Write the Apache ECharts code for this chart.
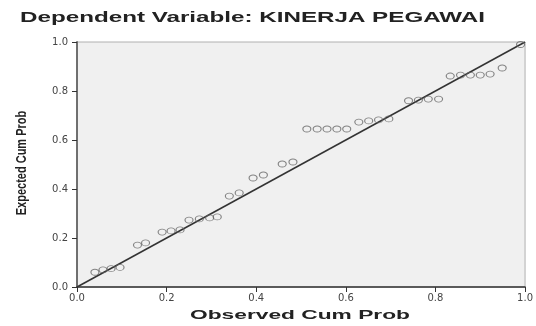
<!DOCTYPE html>
<html>
<head>
<meta charset="utf-8">
<script src="https://cdn.jsdelivr.net/npm/echarts@6/dist/echarts.min.js"></script>
<style>
html,body{margin:0;padding:0;background:#fff;}
#c{width:536px;height:326px;}
</style>
</head>
<body>
<div id="c"></div>
<script>
var titleText = "Dependent Variable: KINERJA PEGAWAI";
var xName = "Observed Cum Prob";
var yName = "Expected Cum Prob";
var tickValues = [0, 0.2, 0.4, 0.6, 0.8, 1.0];
var observed = [0.040,0.058,0.076,0.096, 0.135,0.153, 0.190,0.210,0.230, 0.250,0.273,0.296,0.313, 0.340,0.362, 0.393,0.416, 0.458,0.482, 0.513,0.536,0.558,0.580,0.602, 0.629,0.651,0.673,0.696, 0.740,0.762,0.784,0.807, 0.833,0.856,0.878,0.900,0.922, 0.949, 0.990];
var expected = [0.060,0.070,0.075,0.080, 0.171,0.180, 0.224,0.229,0.233, 0.273,0.278,0.282,0.286, 0.371,0.384, 0.445,0.457, 0.502,0.510, 0.645,0.645,0.645,0.645,0.645, 0.673,0.678,0.682,0.686, 0.760,0.763,0.767,0.767, 0.861,0.865,0.865,0.865,0.869, 0.894, 0.990];
var diagonal = [[0,0],[1,1]];

var pts = observed.map(function(v,i){return [v, expected[i]];});

function measure(txt, font){
  var cv = document.createElement('canvas').getContext('2d');
  cv.font = font;
  return cv.measureText(txt).width;
}
var titleFont = 'bold 14px Arial, "Liberation Sans", sans-serif';
var titleScale = 465 / measure(titleText, titleFont);
var xnFont = 'bold 13px Arial, "Liberation Sans", sans-serif';
var xnScale = 220 / measure(xName, xnFont);

var chart = echarts.init(document.getElementById('c'), null, {renderer:'canvas'});
var axisCommon = {
  type:'value', min:0, max:1, interval:0.2,
  axisLine:{show:true, onZero:false, lineStyle:{color:'#333', width:1.5}},
  axisTick:{show:true, inside:false, length:5, lineStyle:{color:'#333'}},
  splitLine:{show:false},
  axisLabel:{color:'#444', fontSize:10, fontFamily:'DejaVu Sans', formatter:function(v){return v.toFixed(1);}}
};
chart.setOption({
  animation:false,
  backgroundColor:'#fff',
  grid:{left:77, top:42, right:9, bottom:39, show:true, backgroundColor:'#f0f0f0', borderColor:'#b0b0b0', borderWidth:1},
  xAxis: echarts.util.merge({axisLabel:{margin:6}}, axisCommon, false),
  yAxis: [
    echarts.util.merge({axisLabel:{margin:9}}, axisCommon, false),
    {type:'value', min:0, max:1, position:'right', axisLine:{show:true, lineStyle:{color:'#777', width:1.5}}, axisTick:{show:false}, axisLabel:{show:false}, splitLine:{show:false}}
  ],
  series:[
    {type:'line', data:diagonal, symbol:'none', lineStyle:{color:'#333', width:1.5}, z:2},
    {type:'scatter', data:pts, symbol:'circle', symbolSize:[8,6], itemStyle:{color:'rgba(0,0,0,0)', borderColor:'#666', borderWidth:1}, z:3}
  ],
  graphic:[
    {type:'text', left:20, top:11, style:{text:titleText, font:titleFont, fill:'#222'}, scaleX:titleScale, originX:0},
    {type:'text', x:300, y:309, style:{text:xName, font:xnFont, fill:'#222', align:'center'}, scaleX:xnScale},
    {type:'text', x:14, y:163, rotation:Math.PI/2, style:{text:yName, font:'bold 11px Arial, "Liberation Sans", sans-serif', fill:'#222', align:'center', verticalAlign:'top'}, scaleY:1.4}
  ]
});
</script>
</body>
</html>
